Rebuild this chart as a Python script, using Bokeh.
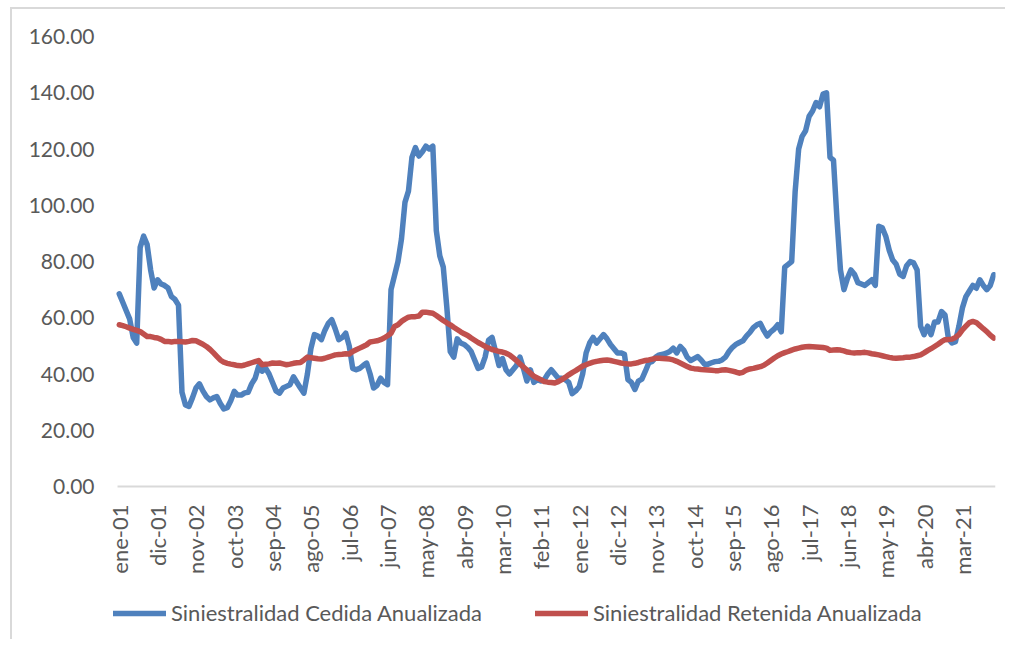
import math
from bokeh.plotting import figure
from bokeh.models import (Range1d, FixedTicker, NumeralTickFormatter, Legend, LegendItem,
                          ColumnDataSource)
from bokeh.embed import file_html
from bokeh.resources import INLINE

# Monthly values, ene-01 .. dic-21
cedida_2001_2005 = [
    68.5, 65.5, 62.5, 59.5, 53.0, 51.0, 85.0, 89.0, 86.0, 77.0, 70.6, 73.5,
    72.0, 71.5, 70.6, 67.5, 66.5, 64.5, 33.5, 29.0, 28.5, 31.5, 35.0, 36.5,
    34.0, 32.0, 30.8, 31.5, 32.0, 29.5, 27.6, 28.0, 30.5, 33.8, 32.5, 32.5,
    33.3, 33.5, 36.5, 38.5, 42.7, 41.0, 42.1, 40.0, 37.0, 34.0, 33.2, 35.0,
    35.6, 36.2, 39.0, 37.0, 35.0, 33.2, 40.0, 49.0, 54.0, 53.5, 52.2, 55.5,
]
cedida_2006_2010 = [
    58.0, 59.3, 56.0, 52.2, 53.0, 54.5, 50.0, 42.0, 41.5, 42.0, 43.0, 43.9,
    40.0, 35.0, 36.0, 38.5, 37.0, 36.2, 70.0, 75.0, 80.0, 88.0, 101.0, 105.0,
    117.0, 120.5, 117.5, 119.0, 121.0, 120.0, 121.0, 91.0, 82.0, 78.0, 64.0, 48.0,
    46.0, 52.5, 51.0, 50.5, 49.5, 48.0, 45.0, 42.0, 42.5, 46.0, 52.0, 53.0,
    48.0, 43.0, 45.5, 41.5, 40.0, 41.5, 43.0, 46.0, 42.0, 37.5, 41.5, 37.0,
]
cedida_2011_2015 = [
    38.0, 37.5, 38.0, 40.0, 41.5, 40.0, 38.5, 38.5, 38.0, 37.0, 33.0, 34.0,
    35.5, 40.0, 47.5, 51.0, 53.0, 51.0, 52.5, 54.0, 52.5, 50.5, 49.0, 47.5,
    47.5, 47.0, 38.0, 37.0, 34.5, 37.5, 38.2, 41.0, 44.0, 44.5, 46.0, 46.8,
    47.0, 47.4, 48.0, 49.2, 47.5, 49.8, 48.5, 46.0, 44.8, 45.5, 46.2, 45.0,
    43.5, 43.5, 44.0, 44.4, 44.5, 45.0, 46.0, 48.0, 49.5, 50.5, 51.2, 51.8,
]
cedida_2016_2021 = [
    53.5, 54.8, 56.5, 57.5, 58.0, 55.5, 53.5, 55.0, 56.0, 57.5, 55.0, 78.0,
    79.0, 80.0, 105.0, 120.0, 124.5, 126.5, 131.6, 133.5, 136.5, 135.0, 139.5, 140.0,
    117.0, 116.0, 95.0, 77.0, 70.0, 74.0, 77.0, 75.5, 72.5, 72.0, 71.5, 72.5,
    73.5, 71.5, 92.5, 92.0, 89.0, 84.0, 80.5, 79.0, 75.5, 74.7, 78.5, 80.0,
    79.5, 77.0, 57.0, 54.0, 57.0, 54.0, 58.5, 58.5, 62.2, 61.0, 52.5, 51.0,
    51.5, 57.0, 63.5, 67.5, 69.5, 71.5, 70.5, 73.5, 71.5, 70.0, 71.5, 75.3,
]
retenida_2001_2005 = [
    57.5, 57.2, 56.8, 56.3, 55.9, 55.5, 55.1, 54.2, 53.3, 53.3, 53.0, 52.8,
    52.3, 51.6, 51.6, 51.4, 51.6, 51.6, 51.5, 51.4, 51.6, 51.9, 51.8, 51.2,
    50.6, 49.8, 48.8, 47.6, 46.3, 45.0, 44.2, 43.8, 43.5, 43.3, 43.0, 42.9,
    43.2, 43.6, 44.0, 44.4, 44.8, 43.3, 43.5, 43.6, 43.9, 43.8, 43.9, 43.6,
    43.3, 43.5, 43.8, 44.0, 44.1, 45.0, 46.0, 45.8, 45.6, 45.4, 45.3, 45.6,
]
retenida_2006_2010 = [
    46.0, 46.4, 46.8, 46.9, 47.0, 47.2, 47.1, 48.0, 48.6, 49.2, 49.8, 50.4,
    51.4, 51.6, 51.8, 52.2, 52.8, 53.6, 54.5, 56.9, 57.5, 58.7, 59.5, 60.2,
    60.4, 60.4, 60.6, 62.0, 62.0, 61.8, 61.6, 60.8, 59.9, 59.0, 58.2, 57.5,
    56.6, 55.8, 55.0, 54.3, 53.7, 52.8, 52.0, 51.2, 50.5, 49.8, 49.2, 48.7,
    48.4, 48.0, 47.8, 47.4, 46.8, 45.8, 44.8, 43.6, 42.5, 41.4, 40.3, 39.2,
]
retenida_2011_2015 = [
    38.6, 38.0, 37.3, 37.1, 37.0, 36.8, 37.3, 38.0, 38.8, 39.7, 40.5, 41.2,
    42.0, 42.8, 43.3, 43.8, 44.2, 44.5, 44.7, 44.9, 45.0, 44.8, 44.5, 44.2,
    43.9, 43.7, 43.6, 43.6, 43.8, 44.1, 44.5, 44.8, 45.0, 45.3, 45.6, 45.6,
    45.5, 45.4, 45.3, 45.0, 44.5, 43.9, 43.3, 42.7, 42.1, 41.9, 41.8, 41.6,
    41.5, 41.4, 41.3, 41.2, 41.2, 41.4, 41.5, 41.3, 41.0, 40.7, 40.3, 40.6,
]
retenida_2016_2021 = [
    41.4, 41.8, 42.0, 42.3, 42.6, 43.1, 43.9, 44.8, 45.7, 46.5, 47.1, 47.6,
    48.0, 48.5, 48.9, 49.2, 49.5, 49.7, 49.8, 49.7, 49.6, 49.5, 49.4, 49.2,
    48.4, 48.5, 48.6, 48.5, 48.2, 47.8, 47.6, 47.5, 47.6, 47.6, 47.7, 47.5,
    47.2, 47.0, 46.8, 46.5, 46.2, 45.9, 45.7, 45.6, 45.7, 45.8, 46.0, 46.0,
    46.2, 46.5, 46.8, 47.5, 48.3, 49.0, 49.8, 50.6, 51.5, 52.2, 52.3, 52.4,
    53.0, 54.0, 55.7, 57.0, 58.3, 58.7, 58.3, 57.2, 56.1, 55.1, 53.8, 52.8,
]
tick_labels = ["ene-01", "dic-01", "nov-02", "oct-03", "sep-04", "ago-05", "jul-06",
               "jun-07", "may-08", "abr-09", "mar-10", "feb-11", "ene-12", "dic-12",
               "nov-13", "oct-14", "sep-15", "ago-16", "jul-17", "jun-18", "may-19",
               "abr-20", "mar-21"]
y_ticks = [0, 20, 40, 60, 80, 100, 120, 140, 160]
series_names = ["Siniestralidad Cedida Anualizada", "Siniestralidad Retenida Anualizada"]

cedida = cedida_2001_2005 + cedida_2006_2010 + cedida_2011_2015 + cedida_2016_2021
retenida = retenida_2001_2005 + retenida_2006_2010 + retenida_2011_2015 + retenida_2016_2021
n = len(cedida)
idx = list(range(n))
src = ColumnDataSource(dict(x=idx, ced=cedida, ret=retenida))

FONT = "Lato"
GRAY = "#595959"

# frame extends below the zero line (labels + legend) and a little to the left
Y_TOP = 160.0
Y_BOTTOM = -54.4
X_LEFT = -3.95
X_RIGHT = n - 0.5

p = figure(frame_width=890, frame_height=603, output_backend="svg", toolbar_location=None,
           x_range=Range1d(X_LEFT, X_RIGHT), y_range=Range1d(Y_BOTTOM, Y_TOP),
           min_border_left=93, min_border_right=10, min_border_top=27, min_border_bottom=0)
p.styles = {"border-top": "2px solid #d9d9d9", "border-left": "2px solid #d9d9d9",
            "margin-left": "10px", "margin-top": "7px"}
p.outline_line_color = None
p.xgrid.visible = False
p.ygrid.visible = False
p.xaxis.visible = False

# category axis line at zero, spanning the categories
p.segment(x0=[-0.5], y0=[0], x1=[n - 0.5], y1=[0], line_color="#d9d9d9", line_width=2)

r1 = p.line("x", "ced", source=src, line_color="#4F81BD", line_width=5.5,
            line_join="round", line_cap="round")
r2 = p.line("x", "ret", source=src, line_color="#C0504D", line_width=5.5,
            line_join="round", line_cap="round")

# category tick labels, rotated, hanging below the zero line
xt = [i * 11 for i in range(len(tick_labels))]
lab_src = ColumnDataSource(dict(x=xt, y=[0] * len(xt), t=tick_labels))
p.text("x", "y", text="t", source=lab_src, angle=math.pi / 2, text_align="right",
       text_baseline="middle", y_offset=18, text_font={"value": FONT},
       text_font_size="22px", text_color=GRAY)

p.yaxis.ticker = FixedTicker(ticks=y_ticks)
p.yaxis.formatter = NumeralTickFormatter(format="0.00")
p.yaxis.axis_line_color = None
p.yaxis.major_tick_line_color = None
p.yaxis.minor_tick_line_color = None
p.yaxis.major_tick_out = 0
p.yaxis.major_tick_in = 0
p.yaxis.major_label_standoff = 11
p.yaxis.major_label_text_font = FONT
p.yaxis.major_label_text_font_size = "21px"
p.yaxis.major_label_text_color = GRAY

legend = Legend(items=[LegendItem(label=series_names[0], renderers=[r1]),
                       LegendItem(label=series_names[1], renderers=[r2])],
                orientation="horizontal", location=(8, 13),
                glyph_width=53, glyph_height=24, label_height=24, label_standoff=5,
                spacing=53, padding=0, margin=0, border_line_color=None,
                background_fill_alpha=0, label_text_font=FONT,
                label_text_font_size="22px", label_text_color=GRAY)
p.add_layout(legend, "center")

open("out.html", "w").write(file_html(p, INLINE))
